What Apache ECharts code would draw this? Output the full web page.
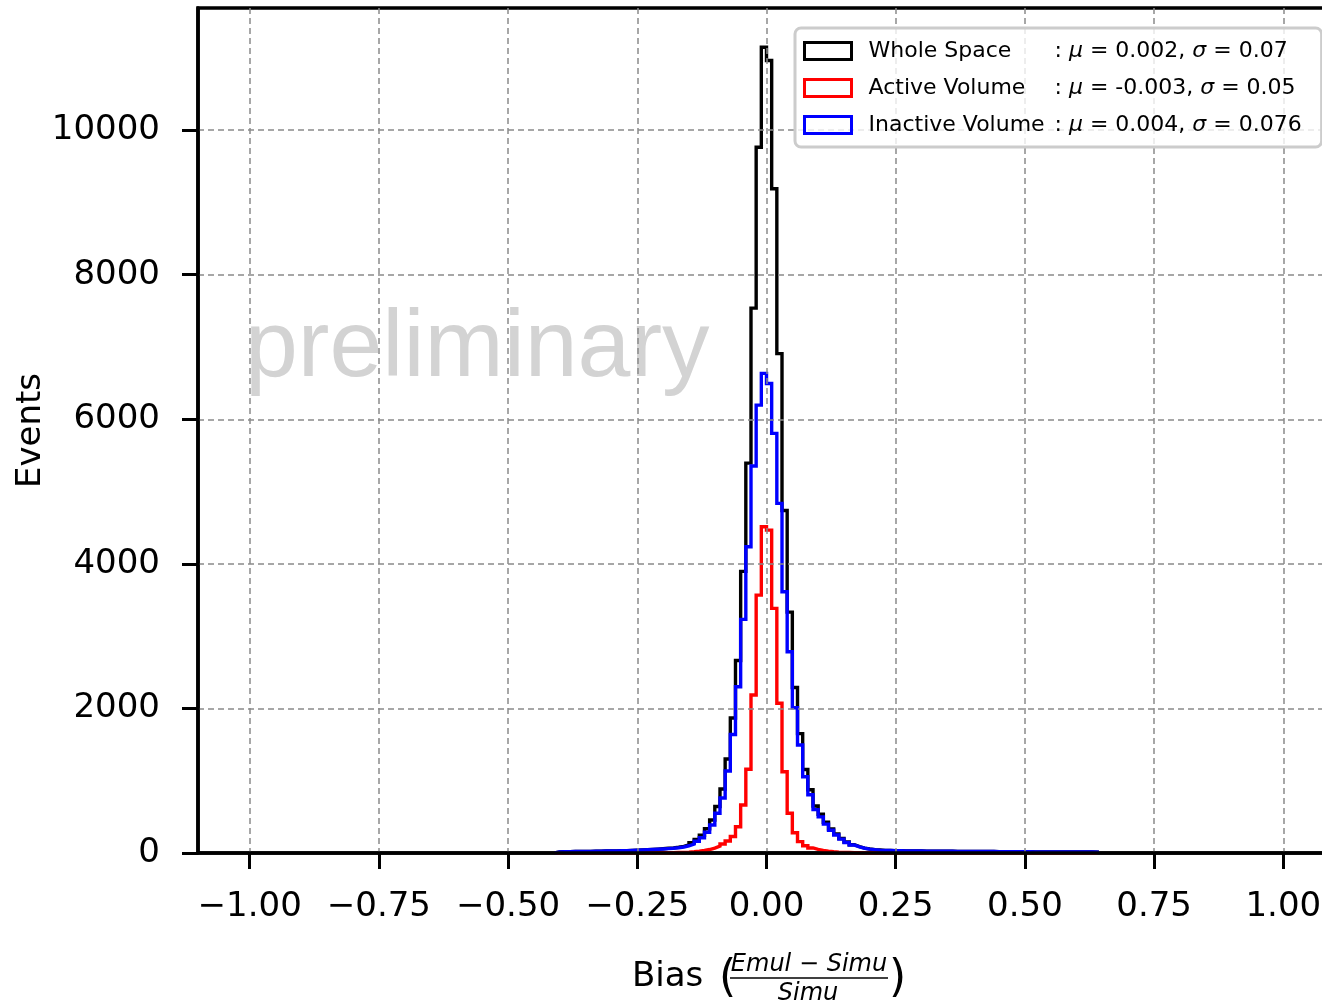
<!DOCTYPE html>
<html>
<head>
<meta charset="utf-8">
<title>Bias</title>
<script src="https://cdn.jsdelivr.net/npm/echarts@6.0.0/dist/echarts.min.js"></script>
<style>
html,body{margin:0;padding:0;background:#fff;}
#biasChart{width:1322px;height:1002px;}
</style>
</head>
<body>
<div id="biasChart"></div>
<script>
//直方图分箱
var binStart = -0.41;
var binWidth = 0.01;

//坐标轴刻度
var xTicks = [-1, -0.75, -0.5, -0.25, 0, 0.25, 0.5, 0.75, 1];
var yTicks = [0, 2000, 4000, 6000, 8000, 10000];

//图例
var seriesNames = ['Whole Space', 'Active Volume', 'Inactive Volume'];
var seriesMu = ['0.002', '-0.003', '0.004'];
var seriesSigma = ['0.07', '0.05', '0.076'];
var seriesColors = ['#000000', '#ff0000', '#0000ff'];

//每个分箱的事件数 (-0.41 ... 0.63)
var wholeCounts = [
	14, 17, 19, 20, 21, 22, 23, 24, 25, 27,
	28, 30, 31, 33, 35, 38, 42, 46, 50, 54,
	59, 65, 71, 80, 92, 112, 141, 186, 246, 336,
	456, 644, 885, 1300, 1868, 2664, 3896, 5394, 7538, 9764,
	11148,
	10963, 9189, 6908, 4738, 3333, 2290, 1652, 1155, 875, 650,
	536, 426, 333, 262, 200, 152, 114, 87, 68, 55,
	47, 41,
	36, 34, 32, 31, 30, 29, 28, 27, 26, 26,
	25, 25, 24, 24, 23, 23, 22, 22, 21, 21,
	20, 20, 19, 19, 18, 18, 18, 17, 17, 16,
	16, 16, 15, 15, 15, 14, 14, 14, 13, 13,
	13, 12
];
var activeCounts = [
	0, 0, 0, 0, 0, 0, 0, 0, 0, 0,
	0, 0, 0, 0, 0, 0,
	1, 1, 2, 2, 3, 4, 5, 7, 9, 12,
	17, 24, 34, 48, 68, 95, 125, 165, 228, 364,
	664, 1158, 2185, 3568, 4513,
	4467, 3384, 2071, 1124, 549, 280, 158, 100, 70, 50,
	36, 26, 18, 12, 8, 6, 4, 3, 2, 1,
	1, 1,
	0, 0, 0, 0, 0, 0, 0, 0, 0, 0,
	0, 0, 0, 0, 0, 0, 0, 0, 0, 0,
	0, 0, 0, 0, 0, 0, 0, 0, 0, 0,
	0, 0, 0, 0, 0, 0, 0, 0, 0, 0,
	0, 0
];
var inactiveCounts = [
	14, 17, 19, 20, 21, 22, 23, 24, 25, 27,
	28, 30, 31, 33, 35, 38, 41, 45, 48, 52,
	56, 61, 66, 73, 83, 100, 124, 162, 212, 288,
	388, 549, 760, 1135, 1640, 2300, 3232, 4236, 5353, 6196,
	6635,
	6496, 5805, 4837, 3614, 2784, 2010, 1494, 1055, 805, 600,
	500, 400, 315, 250, 192, 146, 110, 84, 66, 54,
	46, 40,
	36, 34, 32, 31, 30, 29, 28, 27, 26, 26,
	25, 25, 24, 24, 23, 23, 22, 22, 21, 21,
	20, 20, 19, 19, 18, 18, 18, 17, 17, 16,
	16, 16, 15, 15, 15, 14, 14, 14, 13, 13,
	13, 12
];

//histtype='step' 的轮廓
function stepData(counts){
	var pts = [[binStart, 0]];
	for(var i = 0; i < counts.length; i++){
		pts.push([+(binStart + i * binWidth).toFixed(2), counts[i]]);
	}
	pts.push([+(binStart + counts.length * binWidth).toFixed(2), 0]);
	return pts;
}

function fmtX(v){
	if(Math.abs(v) < 1e-9) return '0.00';
	return (v < 0 ? '\u2212' : '') + Math.abs(v).toFixed(2);
}

var fontMain = 'DejaVu Sans';
var chart = echarts.init(document.getElementById('biasChart'));

var allCounts = [wholeCounts, activeCounts, inactiveCounts];
var series = [];
for(var s = 0; s < seriesNames.length; s++){
	series.push({
		name: seriesNames[s],
		type: 'line',
		step: 'end',
		symbol: 'none',
		z: 2,
		lineStyle: {color: seriesColors[s], width: 3.4, join: 'miter'},
		itemStyle: {color: seriesColors[s]},
		data: stepData(allCounts[s])
	});
}

var legendData = seriesNames.map(function(n, i){
	return {
		name: n,
		icon: 'rect',
		itemStyle: {color: 'rgba(255,255,255,0)', borderColor: seriesColors[i], borderWidth: 3}
	};
});

var option = {
	animation: false,
	backgroundColor: '#ffffff',
	grid: {
		left: 198, top: 8, right: -13, bottom: 149,
		show: true, borderColor: '#000', borderWidth: 3.5,
		backgroundColor: 'rgba(0,0,0,0)',
		outerBoundsMode: 'none'
	},
	legend: {
		orient: 'vertical',
		left: 795, top: 28,
		padding: [10, 20, 9, 8],
		itemWidth: 47, itemHeight: 17, itemGap: 11,
		selectedMode: false,
		backgroundColor: 'rgba(255,255,255,0.8)',
		borderColor: '#cccccc', borderWidth: 3, borderRadius: 6,
		textStyle: {
			fontFamily: fontMain, fontSize: 22, color: '#000', lineHeight: 26,
			padding: [0, 0, 0, 12],
			rich: {
				n: {width: 186, fontFamily: fontMain, fontSize: 22, lineHeight: 26, color: '#000'},
				t: {fontFamily: fontMain, fontSize: 22, lineHeight: 26, color: '#000'},
				m: {fontFamily: fontMain, fontStyle: 'italic', fontSize: 22, lineHeight: 26, color: '#000'}
			}
		},
		formatter: function(name){
			var i = seriesNames.indexOf(name);
			return '{n|' + name + '}{t|: }{m|\u03bc}{t| = ' + seriesMu[i] + ', }{m|\u03c3}{t| = ' + seriesSigma[i] + '}';
		},
		data: legendData
	},
	xAxis: {
		type: 'value',
		min: -1.1, max: 1.1,
		minInterval: 0.25, maxInterval: 0.25,
		z: 3,
		axisLine: {show: true, onZero: false, lineStyle: {color: '#000', width: 3.5}},
		axisTick: {show: true, customValues: xTicks, length: 16, lineStyle: {color: '#000', width: 3}},
		axisLabel: {
			show: true, customValues: xTicks, margin: 37,
			fontFamily: fontMain, fontSize: 34, color: '#000',
			formatter: fmtX
		},
		splitLine: {show: true, lineStyle: {color: '#8a8a8a', width: 1.5, type: [6, 4]}}
	},
	yAxis: {
		type: 'value',
		min: 0, max: 11690, interval: 2000,
		z: 3,
		name: 'Events',
		nameLocation: 'middle',
		nameGap: 150,
		nameMoveOverlap: false,
		nameRotate: 90,
		nameTextStyle: {fontFamily: fontMain, fontSize: 34, color: '#000'},
		axisLine: {show: true, onZero: false, lineStyle: {color: '#000', width: 3.5}},
		axisTick: {show: true, customValues: yTicks, length: 16, lineStyle: {color: '#000', width: 3}},
		axisLabel: {
			show: true, customValues: yTicks, margin: 38,
			fontFamily: fontMain, fontSize: 34, color: '#000',
			formatter: function(v){ return String(v); }
		},
		splitLine: {show: true, lineStyle: {color: '#8a8a8a', width: 1.5, type: [6, 4]}}
	},
	graphic: [
		//水印
		{
			type: 'text', z: 0, silent: true,
			style: {
				x: 245, y: 350, text: 'preliminary',
				font: '95px "Liberation Sans"',
				verticalAlign: 'middle', align: 'left',
				fill: '#d3d3d3'
			}
		},
		//横轴标题 Bias (Emul-Simu / Simu)
		{type: 'text', silent: true, style: {x: 632, y: 977, text: 'Bias', font: '34px "DejaVu Sans"', fill: '#000', verticalAlign: 'middle', align: 'left'}},
		{type: 'text', silent: true, style: {x: 719, y: 980, text: '(', font: '44px "DejaVu Sans"', fill: '#000', verticalAlign: 'middle', align: 'left'}},
		{type: 'text', silent: true, style: {x: 809, y: 965, text: 'Emul \u2212 Simu', font: 'italic 24px "DejaVu Sans"', fill: '#000', verticalAlign: 'middle', align: 'center'}},
		{type: 'line', silent: true, shape: {x1: 730, y1: 978, x2: 888, y2: 978}, style: {stroke: '#000', lineWidth: 1.4}},
		{type: 'text', silent: true, style: {x: 808, y: 994, text: 'Simu', font: 'italic 24px "DejaVu Sans"', fill: '#000', verticalAlign: 'middle', align: 'center'}},
		{type: 'text', silent: true, style: {x: 889, y: 980, text: ')', font: '44px "DejaVu Sans"', fill: '#000', verticalAlign: 'middle', align: 'left'}}
	],
	series: series
};
chart.setOption(option);
</script>
</body>
</html>
